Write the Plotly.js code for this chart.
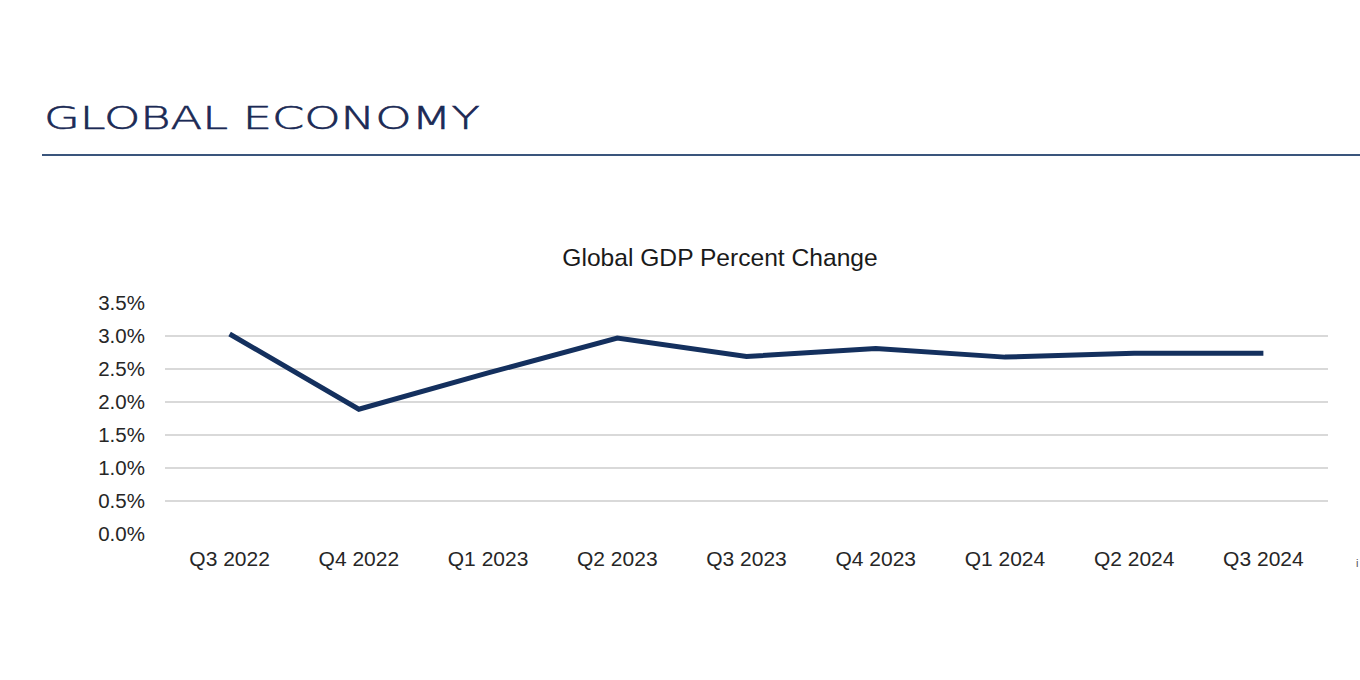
<!DOCTYPE html>
<html>
<head>
<meta charset="utf-8">
<script src="https://cdn.plot.ly/plotly-3.0.1.min.js"></script>
<style>
  html, body { margin: 0; padding: 0; background: #ffffff; width: 1360px; height: 680px; overflow: hidden; }
  #wrap { position: relative; width: 1360px; height: 680px; }
  #header {
    position: absolute; left: 44px; top: 98px;
    font-family: "DejaVu Sans", sans-serif; font-weight: 200; font-size: 32px;
    color: #1b2a55; white-space: nowrap; line-height: 40px;
    -webkit-text-stroke: 0.6px #1b2a55;
    transform-origin: left top; transform: scaleX(1.445);
    z-index: 2;
  }
  #rule { position: absolute; left: 42px; top: 154px; width: 1318px; height: 2px; background: #3a557c; z-index: 2; }
  #chart { position: absolute; left: 0; top: 0; width: 1360px; height: 680px; }
</style>
</head>
<body>
<div id="wrap">
  <div id="chart"></div>
  <div id="header">GLOBAL ECONOMY</div>
  <div id="rule"></div>
</div>
<script>
const quarters = ["Q3 2022", "Q4 2022", "Q1 2023", "Q2 2023", "Q3 2023", "Q4 2023", "Q1 2024", "Q2 2024", "Q3 2024"];
const gdpChange = [3.03, 1.89, 2.44, 2.97, 2.69, 2.81, 2.68, 2.74, 2.74];
const yTicks = [0, 0.5, 1.0, 1.5, 2.0, 2.5, 3.0, 3.5];
const chartTitle = "Global GDP Percent Change";

const trace = {
  type: "scatter",
  mode: "lines",
  x: quarters,
  y: gdpChange,
  line: { color: "#14305e", width: 5, shape: "linear" },
  hoverinfo: "x+y"
};

const layout = {
  width: 1360, height: 680,
  margin: { l: 165, r: 32, t: 303, b: 146 },
  paper_bgcolor: "#ffffff", plot_bgcolor: "#ffffff",
  showlegend: false,
  font: { family: "Liberation Sans, Arial, sans-serif", color: "#262626", size: 20 },
  title: {
    text: chartTitle,
    font: { family: "Liberation Sans, Arial, sans-serif", size: 24.6, color: "#1a1a1a" },
    xref: "container", yref: "container",
    x: 720 / 1360, xanchor: "center",
    y: 1 - 257 / 680, yanchor: "middle"
  },
  xaxis: {
    type: "category",
    range: [-0.5, quarters.length - 0.5],
    showgrid: false, zeroline: false, showline: false,
    ticks: "outside", ticklen: 6, tickcolor: "rgba(0,0,0,0)",
    tickfont: { size: 21, color: "#262626" },
    fixedrange: true
  },
  yaxis: {
    range: [0, 3.5],
    tickvals: yTicks,
    ticktext: yTicks.map(v => v.toFixed(1) + "%"),
    showgrid: true, gridcolor: "#d9d9d9", gridwidth: 2,
    zeroline: false, showline: false,
    ticks: "outside", ticklen: 15, tickcolor: "rgba(0,0,0,0)",
    tickfont: { size: 20.5, color: "#262626" },
    fixedrange: true
  },
  annotations: [
    { text: "i", xref: "paper", yref: "paper",
      x: (1357 - 165) / 1163, y: (534 - 563) / 231, xanchor: "center", yanchor: "middle",
      showarrow: false, font: { size: 11, color: "#555555" } }
  ]
};

Plotly.newPlot("chart", [trace], layout, { displayModeBar: false, staticPlot: true });
</script>
</body>
</html>
